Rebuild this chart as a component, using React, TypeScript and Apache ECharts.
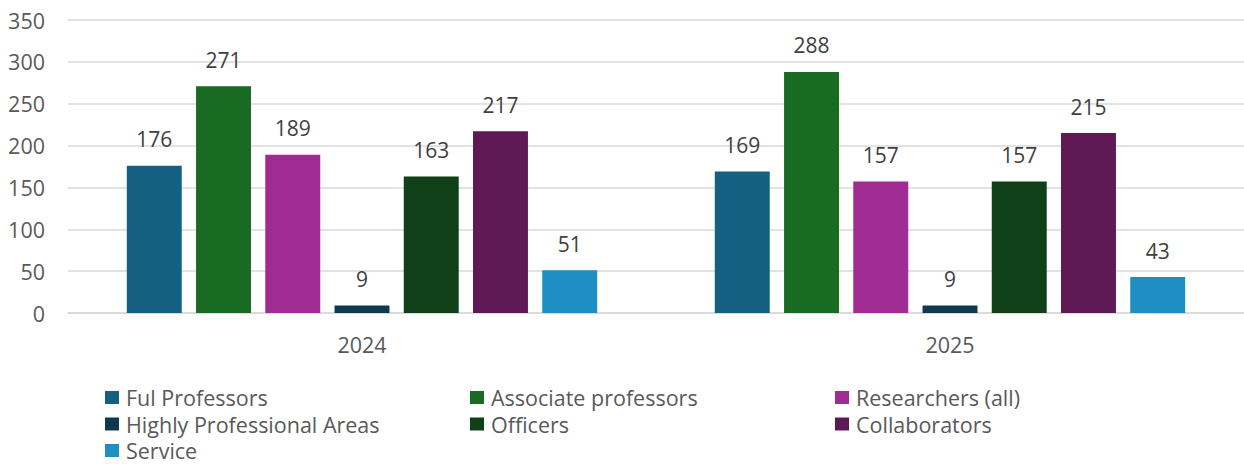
import React, { useEffect, useRef } from "react";
import * as echarts from "echarts";

const categories = ["2024", "2025"];
const seriesNames = [
  "Ful Professors",
  "Associate professors",
  "Researchers (all)",
  "Highly Professional Areas",
  "Officers",
  "Collaborators",
  "Service",
];
const fulProfessors = [176, 169];
const associateProfessors = [271, 288];
const researchers = [189, 157];
const highlyProfessional = [9, 9];
const officers = [163, 157];
const collaborators = [217, 215];
const service = [51, 43];
const yTicks = [0, 50, 100, 150, 200, 250, 300, 350];

const seriesValues = [
  fulProfessors,
  associateProfessors,
  researchers,
  highlyProfessional,
  officers,
  collaborators,
  service,
];
const colors = ["#156082", "#196B24", "#A02B93", "#0D3A4F", "#0F4017", "#5F1A55", "#1F8FC3"];

// legend grid: 3 columns, rows filled left to right
const legendCols = [105, 470, 835];
const legendRowCenters = [397.5, 424, 450.5];

const FONT = "'Open Sans', 'Noto Sans', sans-serif";

export default function App() {
  const ref = useRef<HTMLDivElement>(null);
  useEffect(() => {
    document.body.style.margin = "0";
    const chart = echarts.init(ref.current!, undefined, { renderer: "svg" });
    const legends = seriesNames.map((name, i) => ({
      data: [name],
      orient: "horizontal",
      left: legendCols[i % 3],
      top: legendRowCenters[Math.floor(i / 3)] - 11,
      padding: 0,
      itemWidth: 14,
      itemHeight: 13,
      itemGap: 0,
      icon: "rect",
      selectedMode: false,
      textStyle: {
        fontFamily: FONT,
        fontSize: 21.5,
        lineHeight: 22,
        color: "#595959",
        padding: [0, 0, 0, 2],
      },
    }));
    chart.setOption({
      animation: false,
      color: colors,
      grid: { left: 68, right: 0, top: 20, bottom: 151 },
      legend: legends,
      xAxis: {
        type: "category",
        data: categories,
        axisLine: { lineStyle: { color: "#d9d9d9", width: 1.5 } },
        axisTick: { show: false },
        axisLabel: { fontFamily: FONT, fontSize: 21.5, color: "#595959", margin: 20 },
      },
      yAxis: {
        type: "value",
        min: yTicks[0],
        max: yTicks[yTicks.length - 1],
        interval: 50,
        axisLine: { show: false },
        axisTick: { show: false },
        splitLine: { lineStyle: { color: "#d9d9d9", width: 1.5 } },
        axisLabel: { fontFamily: FONT, fontSize: 21.5, color: "#595959", margin: 23 },
      },
      series: seriesNames.map((name, i) => ({
        name,
        type: "bar",
        data: seriesValues[i],
        barCategoryGap: "20%",
        barGap: "26%",
        itemStyle: { color: colors[i] },
        label: {
          show: true,
          position: "top",
          distance: 16,
          fontFamily: FONT,
          fontSize: 21,
          color: "#404040",
        },
      })),
    });
    return () => chart.dispose();
  }, []);
  return <div ref={ref} style={{ width: 1244, height: 464 }} />;
}
